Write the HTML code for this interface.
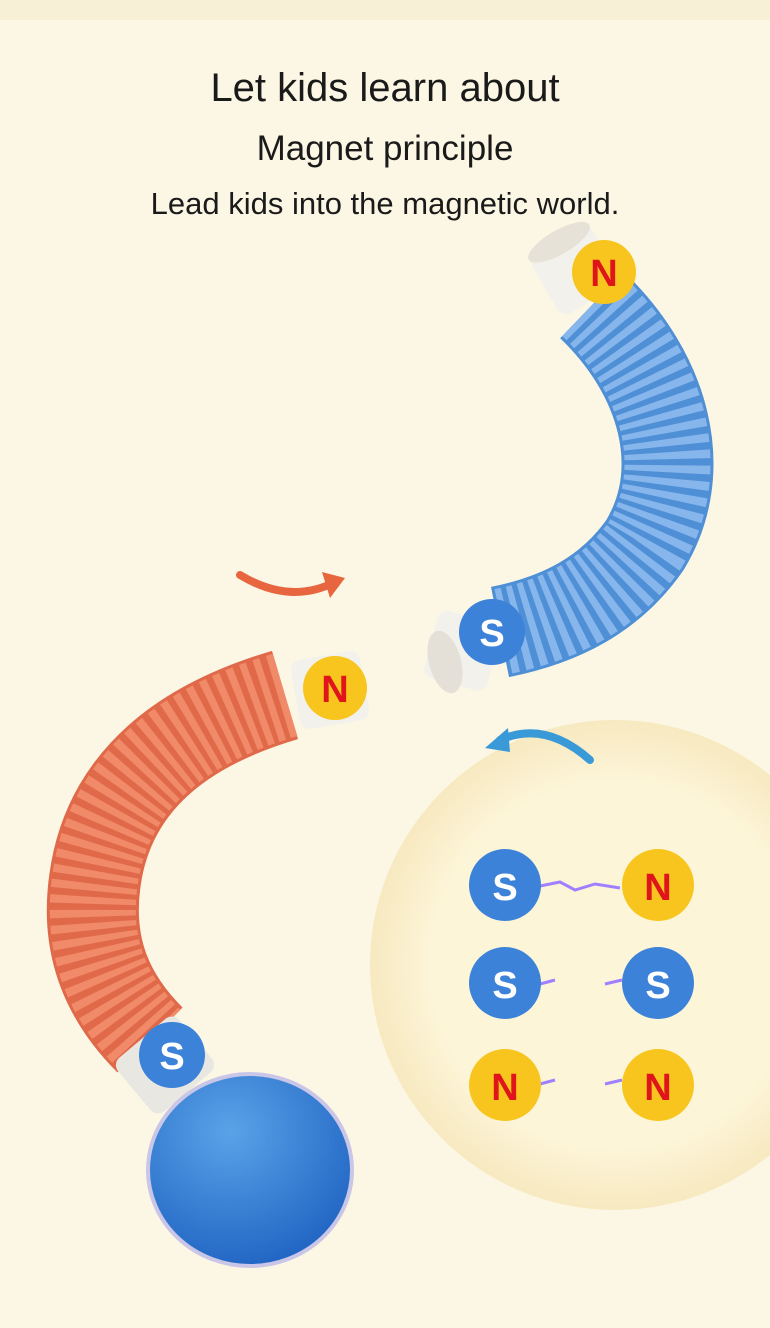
<!DOCTYPE html>
<html><head><meta charset="utf-8"><style>
body{margin:0;width:770px;height:1328px;overflow:hidden;background:#fcf7e4;font-family:"Liberation Sans",sans-serif}
.t{position:absolute;left:0;width:770px;text-align:center;color:#1a1a1a;line-height:1}
</style></head><body>
<svg width="770" height="1328" style="position:absolute;left:0;top:0">
<defs>
<radialGradient id="ball" cx="40%" cy="30%" r="75%"><stop offset="0" stop-color="#5aa3e8"/><stop offset="1" stop-color="#1f63c2"/></radialGradient>
<radialGradient id="ins" cx="50%" cy="50%" r="50%"><stop offset="0.75" stop-color="#fdf5d8"/><stop offset="1" stop-color="#f7e9c0"/></radialGradient>
</defs>
<rect width="770" height="1328" fill="#fcf7e4"/>
<rect x="0" y="0" width="770" height="20" fill="#f8f0d6"/>
<circle cx="615" cy="965" r="245" fill="url(#ins)"/>
<!-- blue tube -->
<path d="M592 305 C665 375 690 470 645 545 C610 595 560 620 500 632" fill="none" stroke="#4f8fd6" stroke-width="92"/>
<path d="M592 305 C665 375 690 470 645 545 C610 595 560 620 500 632" fill="none" stroke="#86b6ec" stroke-width="86" stroke-dasharray="7 6"/>
<g transform="rotate(-30 575 270)"><rect x="540" y="235" width="70" height="70" rx="10" fill="#f3f1ec"/><ellipse cx="575" cy="238" rx="35" ry="12" fill="#e6e2d8"/></g>
<g transform="rotate(-75 460 650)"><rect x="425" y="620" width="70" height="65" rx="10" fill="#f3f1ec"/></g>
<ellipse cx="445" cy="662" rx="16" ry="32" fill="#e4e0d8" transform="rotate(-15 445 662)"/>
<!-- red tube -->
<path d="M285 695 C200 720 110 770 95 880 C85 950 110 1000 150 1040" fill="none" stroke="#e0694a" stroke-width="92"/>
<path d="M285 695 C200 720 110 770 95 880 C85 950 110 1000 150 1040" fill="none" stroke="#f08a68" stroke-width="86" stroke-dasharray="7 6"/>
<g transform="rotate(-10 330 690)"><rect x="295" y="655" width="70" height="70" rx="10" fill="#f3f1ec"/></g>
<g transform="rotate(-40 165 1065)"><rect x="125" y="1030" width="80" height="70" rx="10" fill="#e9e7e2"/></g>
<!-- ball -->
<ellipse cx="250" cy="1170" rx="102" ry="96" fill="url(#ball)" stroke="#c9c6e8" stroke-width="4"/>
<!-- arrows -->
<path d="M240 575 Q290 605 335 582" fill="none" stroke="#e8663f" stroke-width="8" stroke-linecap="round"/>
<polygon points="345,578 322,572 330,598" fill="#e8663f"/>
<path d="M590 760 Q545 720 500 740" fill="none" stroke="#3a9ad8" stroke-width="8" stroke-linecap="round"/>
<polygon points="485,748 508,728 510,752" fill="#3a9ad8"/>
<!-- sparks -->
<path d="M540 886 L560 882 L575 890 L595 884 L620 888" stroke="#a080ff" stroke-width="3" fill="none"/>
<path d="M540 984 L555 980" stroke="#a080ff" stroke-width="3"/><path d="M605 984 L622 980" stroke="#a080ff" stroke-width="3"/>
<path d="M540 1084 L555 1080" stroke="#a080ff" stroke-width="3"/><path d="M605 1084 L622 1080" stroke="#a080ff" stroke-width="3"/>
<g font-family="Liberation Sans,sans-serif" font-weight="bold" font-size="38" text-anchor="middle">
<circle cx="604" cy="272" r="32" fill="#f7c51e"/><text x="604" y="286" fill="#e0151b">N</text>
<circle cx="492" cy="632" r="33" fill="#3b82d8"/><text x="492" y="646" fill="#fff">S</text>
<circle cx="335" cy="688" r="32" fill="#f7c51e"/><text x="335" y="702" fill="#e0151b">N</text>
<circle cx="172" cy="1055" r="33" fill="#3b82d8"/><text x="172" y="1069" fill="#fff">S</text>
<circle cx="505" cy="885" r="36" fill="#3b82d8"/><text x="505" y="900" fill="#fff">S</text>
<circle cx="658" cy="885" r="36" fill="#f7c51e"/><text x="658" y="900" fill="#e0151b">N</text>
<circle cx="505" cy="983" r="36" fill="#3b82d8"/><text x="505" y="998" fill="#fff">S</text>
<circle cx="658" cy="983" r="36" fill="#3b82d8"/><text x="658" y="998" fill="#fff">S</text>
<circle cx="505" cy="1085" r="36" fill="#f7c51e"/><text x="505" y="1100" fill="#e0151b">N</text>
<circle cx="658" cy="1085" r="36" fill="#f7c51e"/><text x="658" y="1100" fill="#e0151b">N</text>
</g>
</svg>
<div class="t" style="top:68px;font-size:40px">Let kids learn about</div>
<div class="t" style="top:131px;font-size:35px">Magnet principle</div>
<div class="t" style="top:188px;font-size:31px">Lead kids into the magnetic world.</div>
</body></html>
